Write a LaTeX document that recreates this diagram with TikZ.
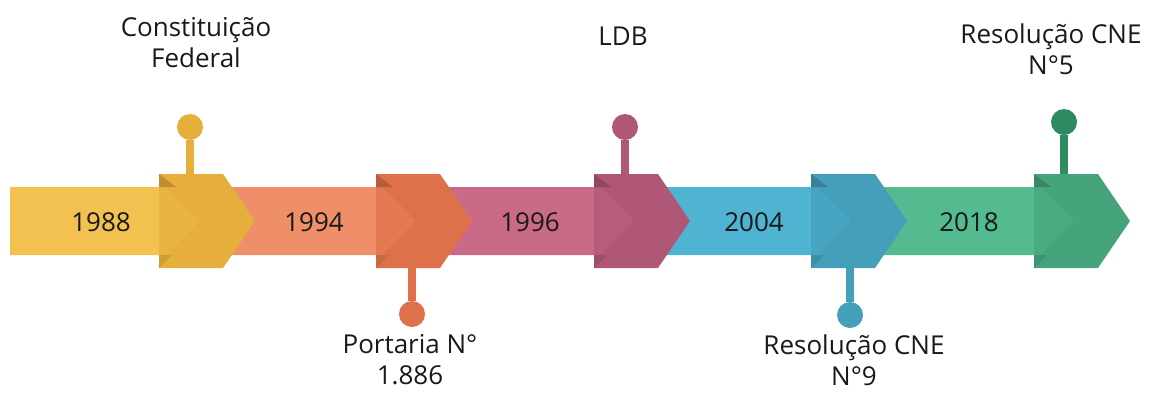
\documentclass[tikz,border=0pt]{standalone}
\usepackage{fontspec}
\setmainfont{Open Sans}
\usepackage{tikz}
\usetikzlibrary{positioning}
\usepackage{xcolor}
\definecolor{yelBody}{HTML}{F2C14F}
\definecolor{yelHead}{HTML}{E6AE3B}
\definecolor{salBody}{HTML}{EE8F6A}
\definecolor{salHead}{HTML}{DF714A}
\definecolor{pinkBody}{HTML}{C96B87}
\definecolor{pinkHead}{HTML}{B05676}
\definecolor{cyanBody}{HTML}{4FB4D2}
\definecolor{cyanHead}{HTML}{449FBA}
\definecolor{grnBody}{HTML}{54BA90}
\definecolor{grnHead}{HTML}{45A47B}
\definecolor{grnPin}{HTML}{2E8A60}
\tikzstyle{year} = [font=\fontsize{26}{32}\selectfont, text=black!90, inner sep=0pt]
\tikzstyle{event} = [font=\fontsize{26}{31}\selectfont, align=center, text=black!90, inner sep=0pt]
\tikzstyle{pinhead} = [circle, inner sep=0pt, minimum size=26pt]
\tikzstyle{stem} = [line width=7.5pt]

\begin{document}
\begin{tikzpicture}[x=1pt, y=-1pt]
\useasboundingbox (0,0) rectangle (1152,392);

% Bodies
\foreach \c/\s/\bc in {159/10/yelBody, 376/220/salBody, 594/436/pinkBody, 811/654/cyanBody, 1034/871/grnBody}
  \fill[\bc] (\s,187) -- (\c+6,187) -- (\c+40,221) -- (\c+6,255) -- (\s,255) -- cycle;

% Chevrons
\foreach \c/\bc/\hc in {159/yelBody/yelHead, 376/salBody/salHead, 594/pinkBody/pinkHead, 811/cyanBody/cyanHead, 1034/grnBody/grnHead} {
  \fill[\hc] (\c,174) -- (\c+64,174) -- (\c+96,221) -- (\c+64,268) -- (\c,268) -- cycle;
  \fill[\bc!30!\hc] (\c,187) -- (\c+6,187) -- (\c+40,221) -- (\c+6,255) -- (\c,255) -- cycle;
  \fill[\hc!82!black] (\c,174) -- (\c+17,187) -- (\c,187) -- cycle;
  \fill[\hc!90!black] (\c,268) -- (\c+13,255) -- (\c,255) -- cycle;
}

% Years
\node (y1988) [year] at (101,222) {1988};
\node (y1994) [year] at (314,222) {1994};
\node (y1996) [year] at (530,222) {1996};
\node (y2004) [year] at (754,222) {2004};
\node (y2018) [year] at (969,222) {2018};

% Pins above
\node (pinCF) [pinhead, fill=yelHead] at (190,127) {};
\coordinate (topCF) at (190,174);
\draw [stem, yelHead] (pinCF) -- (topCF);
\node (lblCF) [event, above=46pt of pinCF, xshift=6pt] {Constituição\\Federal};

\node (pinLDB) [pinhead, fill=pinkHead] at (625,127) {};
\coordinate (topLDB) at (625,174);
\draw [stem, pinkHead] (pinLDB) -- (topLDB);
\node (lblLDB) [event, above=68pt of pinLDB, xshift=-2pt] {LDB};

\node (pinCNE5) [pinhead, fill=grnPin] at (1064,122) {};
\coordinate (topCNE5) at (1064,174);
\draw [stem, grnPin] (pinCNE5) -- (topCNE5);
\node (lblCNE5) [event, above=34pt of pinCNE5, xshift=-13pt] {Resolução CNE\\N°5};

% Pins below
\node (pinPort) [pinhead, fill=salHead] at (412,314) {};
\coordinate (botPort) at (412,268);
\draw [stem, salHead] (pinPort) -- (botPort);
\node (lblPort) [event, below=7pt of pinPort, xshift=-2pt] {Portaria N°\\1.886};

\node (pinCNE9) [pinhead, fill=cyanHead] at (850,315) {};
\coordinate (botCNE9) at (850,268);
\draw [stem, cyanHead] (pinCNE9) -- (botCNE9);
\node (lblCNE9) [event, below=6pt of pinCNE9, xshift=4pt] {Resolução CNE\\N°9};

\end{tikzpicture}
\end{document}
